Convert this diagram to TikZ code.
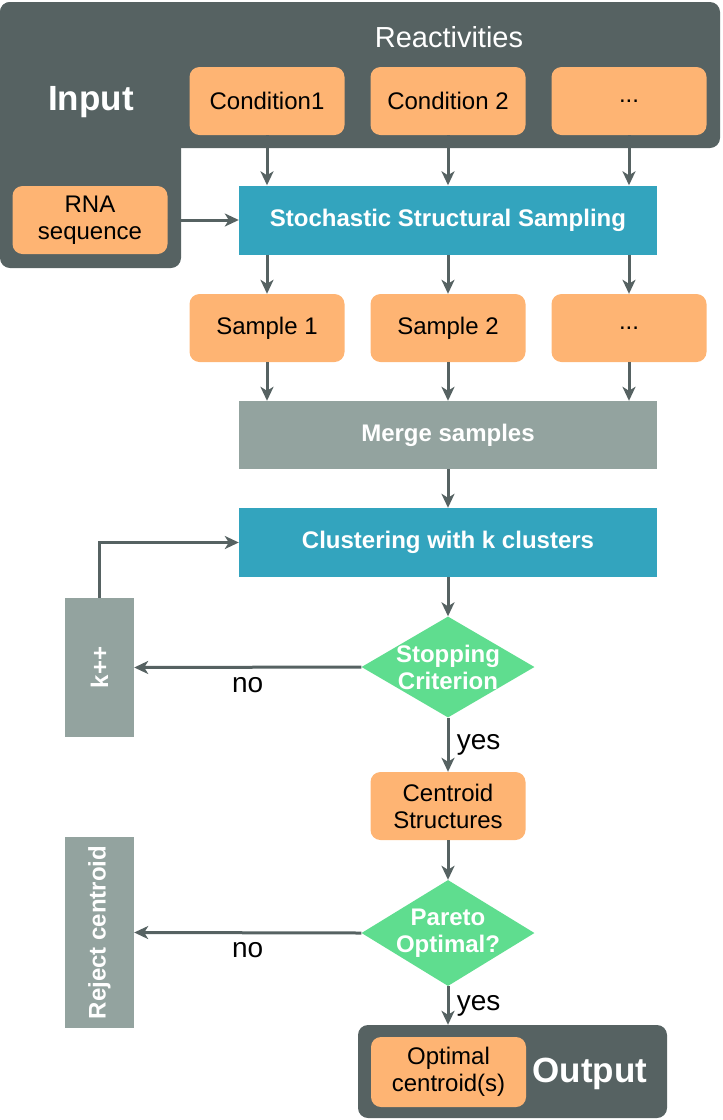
\documentclass[tikz,border=0pt]{standalone}
\usepackage{fontspec}
\setmainfont{Liberation Sans}
\usetikzlibrary{arrows.meta,shapes.geometric}

\definecolor{panel}{RGB}{86,98,98}
\definecolor{peach}{RGB}{254,180,115}
\definecolor{stepblue}{RGB}{51,164,190}
\definecolor{slate}{RGB}{147,163,159}
\definecolor{mint}{RGB}{95,221,143}

\tikzset{
    txt/.style={font=\fontsize{24}{27}\selectfont, align=center},
    lbl/.style={font=\fontsize{28}{32}\selectfont},
    btxt/.style={font=\bfseries\fontsize{24}{27}\selectfont, align=center, text=white},
    big/.style={font=\bfseries\fontsize{35}{40}\selectfont, text=white},
    box/.style={txt, fill=peach, rounded corners=10pt, minimum width=155pt, minimum height=68pt},
    proc/.style={btxt, fill=stepblue, minimum width=418pt, minimum height=69pt},
    merger/.style={btxt, fill=slate, minimum width=418pt, minimum height=68pt},
    side/.style={btxt, fill=slate, rotate=90, minimum height=69pt},
    dec/.style={diamond, fill=mint, inner sep=0pt, minimum width=173pt},
    arr/.style={draw=panel, line width=3pt, -{Stealth[length=14pt,width=13pt,inset=4pt]}}
}

\begin{document}
\begin{tikzpicture}[x=1pt,y=-1pt]
    \useasboundingbox (0,0) rectangle (723,1120);

    \fill[panel, rounded corners=10pt] (0,2) rectangle (720,148);
    \fill[panel, rounded corners=10pt] (0,2) rectangle (181,268);
    \node[font=\fontsize{29}{33}\selectfont, text=white] (react) at (449,37) {Reactivities};
    \node[big] (input) at (91,102) {Input};

    \node[box] (cond1) at (267,101) {Condition1};
    \node[box] (cond2) at (448,101) {Condition 2};
    \node[box] (cond3) at (629,101) {...};
    \node[box] (rna) at (90,220) {RNA\\sequence};

    \node[proc] (sss) at (448,220) {Stochastic Structural Sampling};

    \node[box] (samp1) at (267,328) {Sample 1};
    \node[box] (samp2) at (448,328) {Sample 2};
    \node[box] (samp3) at (629,328) {...};

    \node[merger] (merge) at (448,435) {Merge samples};
    \node[proc] (clust) at (448,542.5) {Clustering with k clusters};

    \node[dec, minimum height=101pt] (stop) at (448,667) {};
    \node[btxt] (stoptxt) at (stop) {Stopping\\Criterion};
    \node[side, minimum width=139pt] (kpp) at (99.5,667.5) {k++};

    \node[box] (cent) at (448,806) {Centroid\\Structures};

    \node[dec, minimum height=106pt] (pareto) at (448,933) {};
    \node[btxt] (paretotxt) at (pareto) {Pareto\\Optimal?};
    \node[side, minimum width=191pt] (rej) at (99.5,932.5) {Reject centroid};

    \node[fill=panel, rounded corners=10pt, minimum width=309pt, minimum height=93pt] (outbox) at (512.5,1071.5) {};
    \node[box, minimum height=70pt] (opt) at (448.5,1072) {Optimal\\centroid(s)};
    \node[big] (output) at (590,1074) {Output};

    \draw[arr] (cond1.south) -- (cond1.south |- sss.north);
    \draw[arr] (cond2.south) -- (cond2.south |- sss.north);
    \draw[arr] (cond3.south) -- (cond3.south |- sss.north);
    \draw[arr] (rna.east) -- (sss.west);

    \draw[arr] (samp1.north |- sss.south) -- (samp1.north);
    \draw[arr] (samp2.north |- sss.south) -- (samp2.north);
    \draw[arr] (samp3.north |- sss.south) -- (samp3.north);
    \draw[arr] (samp1.south) -- (samp1.south |- merge.north);
    \draw[arr] (samp2.south) -- (samp2.south |- merge.north);
    \draw[arr] (samp3.south) -- (samp3.south |- merge.north);

    \draw[arr] (merge.south) -- (clust.north);
    \draw[arr] (clust.south) -- (stop.north);
    \draw[arr] (stop.west) -- node[lbl, below=5pt] (no1) {no} (kpp.south);
    \draw[arr] (kpp.east) |- (clust.west);
    \draw[arr] (stop.south) -- node[lbl, right=4pt] (yes1) {yes} (cent.north);
    \draw[arr] (cent.south) -- (pareto.north);
    \draw[arr] (pareto.west) -- node[lbl, below=5pt] (no2) {no} (rej.south);
    \draw[arr] (pareto.south) -- node[lbl, right=4pt] (yes2) {yes} (outbox.north -| pareto.south);
\end{tikzpicture}
\end{document}
